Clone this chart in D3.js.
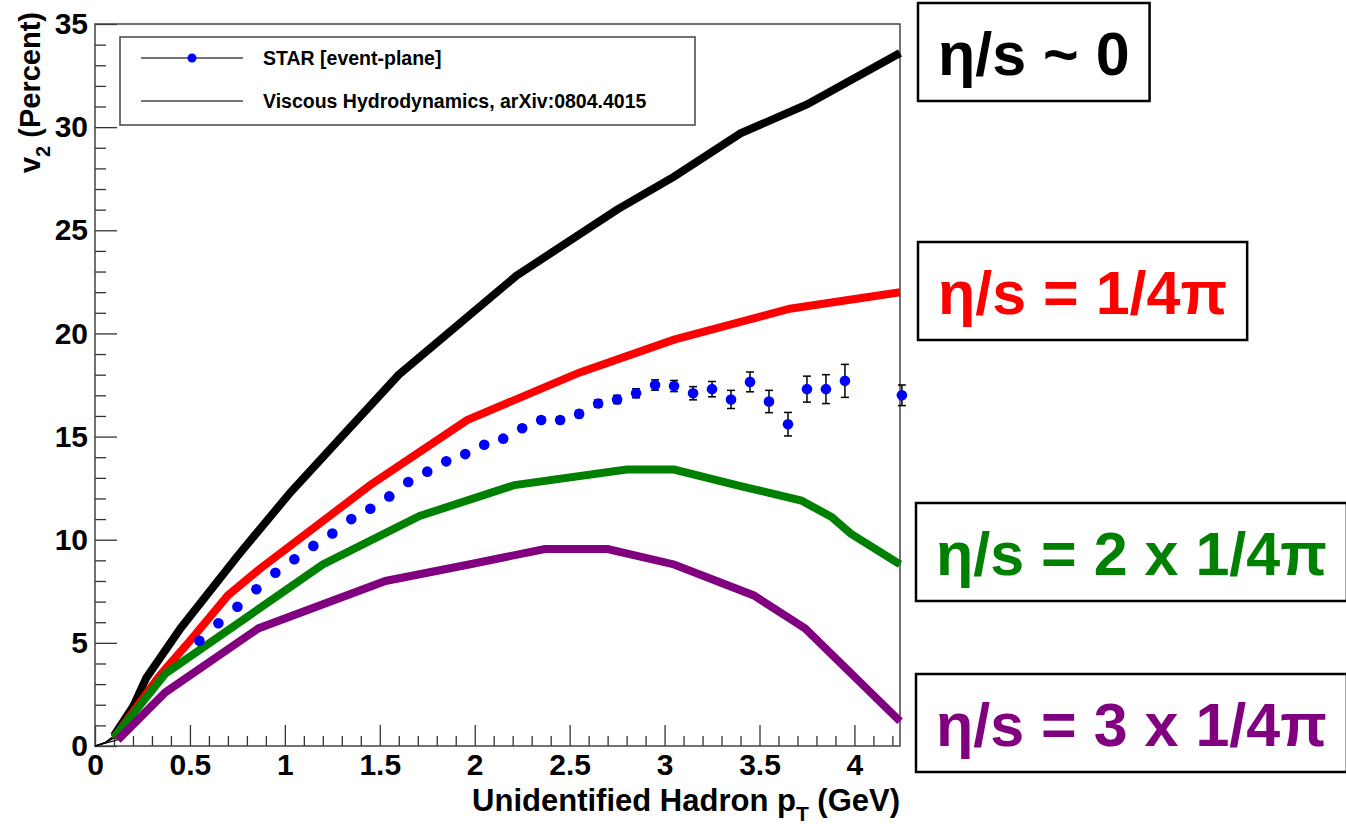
<!DOCTYPE html>
<html><head><meta charset="utf-8">
<script src="https://cdn.jsdelivr.net/npm/d3@7"></script>
<style>
  body { margin: 0; background: #fff; }
  svg { display: block; }
  text { font-family: "Liberation Sans", Arial, Helvetica, sans-serif; font-weight: bold; }
</style>
</head><body>
<svg id="chart" width="1346" height="824"></svg>
<script>
// STAR event-plane v2 (percent) vs pT (GeV)
const starPt  = [0.55,0.65,0.75,0.85,0.95,1.05,1.15,1.25,1.35,1.45,1.55,1.65,1.75,1.85,1.95,
                 2.05,2.15,2.25,2.35,2.45,2.55,2.65,2.75,2.85,2.95,3.05,3.15,3.25,3.35,3.45,
                 3.55,3.65,3.75,3.85,3.95,4.25];
const starV2  = [5.1,5.95,6.75,7.6,8.4,9.05,9.7,10.3,11.0,11.5,12.1,12.8,13.3,13.8,14.15,
                 14.6,14.9,15.4,15.8,15.8,16.1,16.6,16.8,17.1,17.5,17.45,17.1,17.3,16.8,17.65,
                 16.7,15.6,17.3,17.3,17.7,17.0];
const starErr = [0.1,0.1,0.1,0.1,0.1,0.1,0.1,0.1,0.1,0.1,0.1,0.1,0.1,0.1,0.1,
                 0.12,0.13,0.14,0.15,0.16,0.17,0.18,0.2,0.22,0.25,0.27,0.32,0.37,0.44,0.48,
                 0.54,0.57,0.63,0.7,0.8,0.5];

// Viscous hydrodynamics curves: [pT, v2]
const hydroIdeal = [[0,0],[0.05,0.15],[0.1,0.5],[0.2,1.9],[0.27,3.3],[0.45,5.7],[0.75,9.2],[1.03,12.3],
                    [1.3,15.0],[1.6,18.0],[2.22,22.8],[2.75,26.0],[3.05,27.6],[3.4,29.7],[3.75,31.1],[4.24,33.6]];
const hydroEta1  = [[0,0],[0.05,0.15],[0.1,0.4],[0.34,3.4],[0.5,5.1],[0.7,7.3],[0.87,8.6],[1.45,12.65],
                    [1.96,15.8],[2.55,18.1],[3.05,19.7],[3.66,21.2],[4.24,22.0]];
const hydroEta2  = [[0,0],[0.05,0.15],[0.1,0.4],[0.37,3.5],[1.2,8.8],[1.71,11.15],[2.21,12.65],[2.8,13.4],
                    [3.05,13.4],[3.4,12.6],[3.72,11.9],[3.88,11.1],[3.98,10.3],[4.24,8.8]];
const hydroEta3  = [[0,0],[0.06,0.15],[0.12,0.3],[0.37,2.6],[0.86,5.7],[1.53,8.0],[1.97,8.8],[2.37,9.55],
                    [2.7,9.55],[3.05,8.8],[3.47,7.3],[3.74,5.7],[4.24,1.2]];

const xTicks = [0,0.5,1,1.5,2,2.5,3,3.5,4];
const yTicks = [0,5,10,15,20,25,30,35];
const xTickLabels = ["0","0.5","1","1.5","2","2.5","3","3.5","4"];
const yTickLabels = ["0","5","10","15","20","25","30","35"];

const modelLabels = ["η/s ~ 0", "η/s = 1/4π", "η/s = 2 x 1/4π", "η/s = 3 x 1/4π"];
const modelColors = ["#000000", "#ff0000", "#008000", "#800080"];
const legendLabels = ["STAR [event-plane]", "Viscous Hydrodynamics, arXiv:0804.4015"];

const svg = d3.select("#chart");
const x = d3.scaleLinear().domain([0, 4.24]).range([95, 900]);
const y = d3.scaleLinear().domain([0, 35]).range([746, 24]);

// minor ticks
const xMinor = d3.range(0, 43).map(i => +(i * 0.1).toFixed(1)).filter(v => v <= 4.24 && Math.abs(v*2 - Math.round(v*2)) > 1e-6);
const yMinor = d3.range(0, 36).filter(v => v % 5 !== 0);

const gxMinor = svg.append("g").attr("transform", "translate(0,746)")
  .call(d3.axisBottom(x).tickValues(xMinor).tickSize(-10).tickFormat(""));
const gx = svg.append("g").attr("transform", "translate(0,746)")
  .call(d3.axisBottom(x).tickValues(xTicks).tickSize(-21).tickPadding(8)
        .tickFormat((d, i) => xTickLabels[i]));
const gyMinor = svg.append("g").attr("transform", "translate(95,0)")
  .call(d3.axisLeft(y).tickValues(yMinor).tickSize(-11).tickFormat(""));
const gy = svg.append("g").attr("transform", "translate(95,0)")
  .call(d3.axisLeft(y).tickValues(yTicks).tickSize(-22).tickPadding(7)
        .tickFormat((d, i) => yTickLabels[i]));

[gxMinor, gx, gyMinor, gy].forEach(g => {
  g.select(".domain").remove();
  g.selectAll(".tick line").attr("stroke", "#333").attr("stroke-width", 1.3);
  g.selectAll("text").attr("fill", "#000").style("font-size", "30px")
    .style("font-family", "'Liberation Sans', Arial, sans-serif").style("font-weight", "bold");
});

// frame
svg.append("rect").attr("x", x(0)).attr("y", y(35)).attr("width", x(4.24) - x(0)).attr("height", y(0) - y(35))
  .attr("fill", "none").attr("stroke", "#444").attr("stroke-width", 1.5);

// axis titles
const xt = svg.append("text").attr("x", 900).attr("y", 811).attr("text-anchor", "end")
  .style("font-size", "31px");
xt.append("tspan").text("Unidentified Hadron p");
xt.append("tspan").attr("dy", 10).style("font-size", "21px").text("T");
xt.append("tspan").attr("dy", -10).text(" (GeV)");

const yt = svg.append("text").attr("transform", "translate(40,12) rotate(-90)").attr("text-anchor", "end")
  .style("font-size", "29px");
yt.append("tspan").text("v");
yt.append("tspan").attr("dy", 10).style("font-size", "20px").text("2");
yt.append("tspan").attr("dy", -10).text(" (Percent)");

// hydro curves
const line = d3.line().x(d => x(d[0])).y(d => y(d[1]));
const curves = [hydroIdeal, hydroEta1, hydroEta2, hydroEta3];
curves.forEach(c => {
  svg.append("path").attr("d", line(c)).attr("fill", "none")
    .attr("stroke", "#000").attr("stroke-width", 1.2);
});
curves.forEach((c, i) => {
  const start = c.findIndex(p => p[0] >= 0.1);
  svg.append("path").attr("d", line(c.slice(start))).attr("fill", "none")
    .attr("stroke", modelColors[i]).attr("stroke-width", 8).attr("stroke-linejoin", "miter");
});

// STAR error bars and markers
const star = starPt.map((p, i) => ({ p, v: starV2[i], e: starErr[i] }));
const eb = svg.append("g").attr("stroke", "#000").attr("stroke-width", 1.5);
star.forEach(d => {
  eb.append("line").attr("x1", x(d.p)).attr("x2", x(d.p)).attr("y1", y(d.v - d.e)).attr("y2", y(d.v + d.e));
  [d.v - d.e, d.v + d.e].forEach(v => eb.append("line")
    .attr("x1", x(d.p) - 4).attr("x2", x(d.p) + 4).attr("y1", y(v)).attr("y2", y(v)));
});
svg.append("g").selectAll("circle").data(star).join("circle")
  .attr("cx", d => x(d.p)).attr("cy", d => y(d.v)).attr("r", 5.3).attr("fill", "#0000ff");

// legend
const lg = svg.append("g");
lg.append("rect").attr("x", 120).attr("y", 37).attr("width", 575).attr("height", 88)
  .attr("fill", "#fff").attr("stroke", "#444").attr("stroke-width", 1.5);
[58, 101].forEach((ly, i) => {
  lg.append("line").attr("x1", 141).attr("x2", 243).attr("y1", ly).attr("y2", ly)
    .attr("stroke", "#444").attr("stroke-width", 1.5);
  if (i === 0) lg.append("circle").attr("cx", 192).attr("cy", ly).attr("r", 4.5).attr("fill", "#0000ff");
  lg.append("text").attr("x", 263).attr("y", ly + 7).style("font-size", "19.5px").text(legendLabels[i]);
});

// model labels in boxes
const boxes = [{ bx: 918, by: 3 }, { bx: 918, by: 242 }, { bx: 916, by: 503 }, { bx: 916, by: 674 }];
boxes.forEach((b, i) => {
  const g = svg.append("g");
  const r = g.append("rect");
  const t = g.append("text").attr("x", b.bx + 20).attr("y", b.by + 49 + 23)
    .attr("fill", modelColors[i]).style("font-size", "61px").text(modelLabels[i]);
  const w = t.node().getBBox().width;
  r.attr("x", b.bx).attr("y", b.by).attr("width", w + 40).attr("height", 98)
    .attr("fill", "#fff").attr("stroke", "#000").attr("stroke-width", 2.5);
});
</script>
</body></html>
